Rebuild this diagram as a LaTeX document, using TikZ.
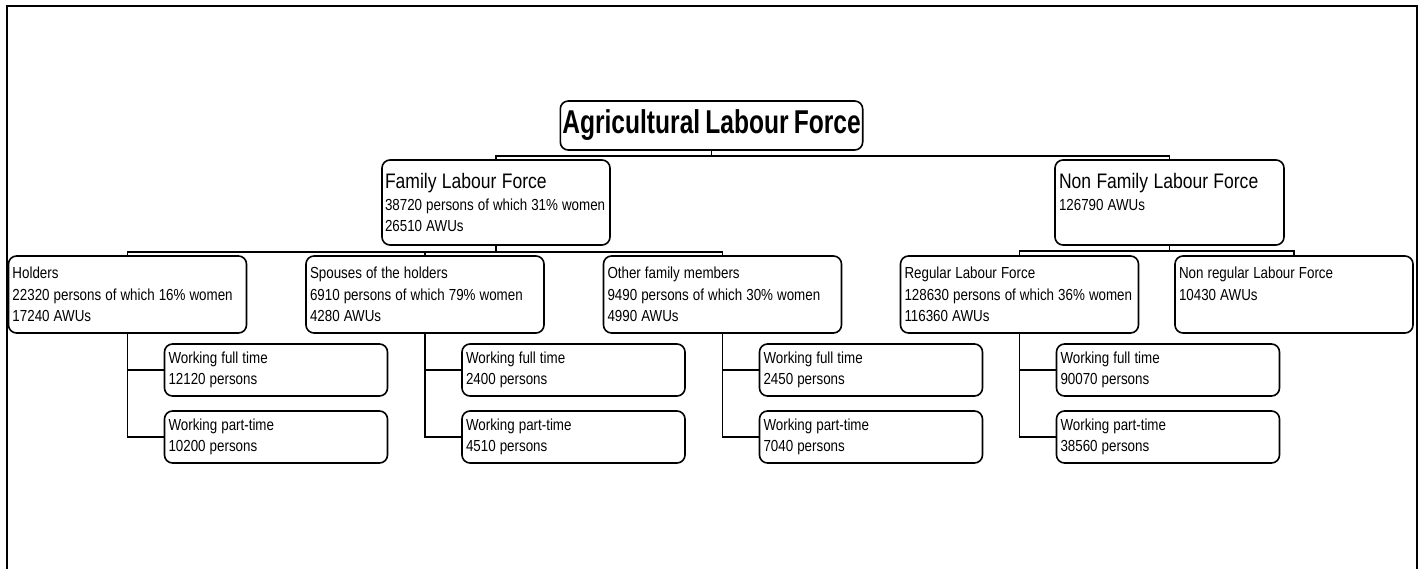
\documentclass[tikz,border=0pt]{standalone}
\usepackage{fontspec}
\setmainfont{Liberation Sans}[FakeStretch=0.835, WordSpace=1.1]
\newfontfamily\titlefont{Liberation Sans}[FakeStretch=0.745, WordSpace=0.745]

\begin{document}
\begin{tikzpicture}[x=1pt, y=-1pt,
  every node/.style={font=\fontsize{16}{21.5}\selectfont},
  labbox/.style={draw, line width=1.6pt, rounded corners=8pt, align=flush left, inner xsep=4pt, inner ysep=2pt},
  midbox/.style={labbox, text width=230pt, minimum height=77pt},
  workbox/.style={labbox, text width=215pt, minimum height=52pt},
  link/.style={line width=1.5pt}]
  \useasboundingbox (0,0) rectangle (1422,568);
  \draw[line width=2.5pt] (7,572) -- (7,6) -- (1417,6) -- (1417,572);

  \node[draw, line width=1.6pt, rounded corners=8pt, minimum width=301pt, minimum height=49pt, inner sep=2pt,
    font=\titlefont\bfseries\fontsize{33}{36}\selectfont] (title) at (711.5,125.5) {Agricultural Labour Force};

  \node[labbox, text width=222pt, inner xsep=3pt, minimum height=85pt] (family) at (496,202.5)
    {{\fontsize{21}{22}\selectfont Family Labour Force}\\38720 persons of which 31\% women\\26510 AWUs};
  \node[labbox, text width=221pt, minimum height=85pt] (nonfamily) at (1169.5,202.5)
    {{\fontsize{21}{22}\selectfont Non Family Labour Force}\\126790 AWUs\\\mbox{}};

  \node[midbox] (holders) at (127.5,294.5) {Holders\\22320 persons of which 16\% women\\17240 AWUs};
  \node[midbox] (spouses) at (425,294.5) {Spouses of the holders\\6910 persons of which 79\% women\\4280 AWUs};
  \node[midbox] (others) at (722.5,294.5) {Other family members\\9490 persons of which 30\% women\\4990 AWUs};
  \node[midbox] (regular) at (1019.5,294.5) {Regular Labour Force\\128630 persons of which 36\% women\\116360 AWUs};
  \node[midbox] (nonregular) at (1294,294.5) {Non regular Labour Force\\10430 AWUs\\\mbox{}};

  \node[workbox] (holdfull) at (276,370) {Working full time\\12120 persons};
  \node[workbox] (holdpart) at (276,437) {Working part-time\\10200 persons};
  \node[workbox] (spousefull) at (573.5,370) {Working full time\\2400 persons};
  \node[workbox] (spousepart) at (573.5,437) {Working part-time\\4510 persons};
  \node[workbox] (otherfull) at (871,370) {Working full time\\2450 persons};
  \node[workbox] (otherpart) at (871,437) {Working part-time\\7040 persons};
  \node[workbox] (regfull) at (1168,370) {Working full time\\90070 persons};
  \node[workbox] (regpart) at (1168,437) {Working part-time\\38560 persons};

  \draw[link] (title.south) -- ++(0,5) -| (family.north);
  \draw[link] (title.south) -- ++(0,5) -| (nonfamily.north);
  \draw[link] (family.south) -- ++(0,6) -| (holders.north);
  \draw[link] (family.south) -- ++(0,6) -| (spouses.north);
  \draw[link] (family.south) -- ++(0,6) -| (others.north);
  \draw[link] (nonfamily.south) -- ++(0,5) -| (regular.north);
  \draw[link] (nonfamily.south) -- ++(0,5) -| (nonregular.north);

  \draw[link] (holders.south) |- (holdfull.west);
  \draw[link] (holders.south) |- (holdpart.west);
  \draw[link] (spouses.south) |- (spousefull.west);
  \draw[link] (spouses.south) |- (spousepart.west);
  \draw[link] (others.south) |- (otherfull.west);
  \draw[link] (others.south) |- (otherpart.west);
  \draw[link] (regular.south) |- (regfull.west);
  \draw[link] (regular.south) |- (regpart.west);
\end{tikzpicture}
\end{document}
